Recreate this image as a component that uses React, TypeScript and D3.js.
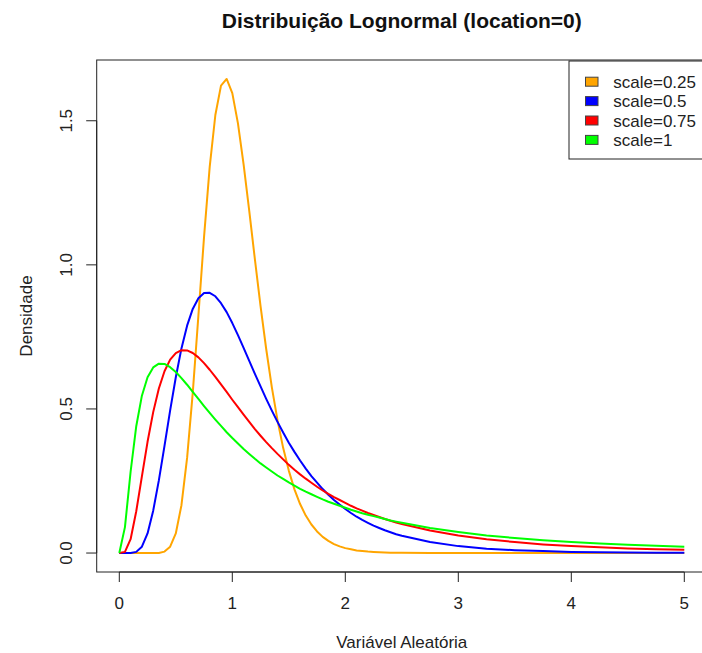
import React, { useEffect, useRef } from "react";
import * as d3 from "d3";

// pontos de x (passo 0.05 até 2.5, depois 0.25)
const xs = [
  0, 0.05, 0.1, 0.15, 0.2, 0.25, 0.3, 0.35, 0.4, 0.45, 0.5, 0.55, 0.6, 0.65, 0.7, 0.75, 0.8, 0.85, 0.9, 0.95,
  1.0, 1.05, 1.1, 1.15, 1.2, 1.25, 1.3, 1.35, 1.4, 1.45, 1.5, 1.55, 1.6, 1.65, 1.7, 1.75, 1.8, 1.85, 1.9, 1.95,
  2.0, 2.05, 2.1, 2.15, 2.2, 2.25, 2.3, 2.35, 2.4, 2.45, 2.5, 2.75, 3.0, 3.25, 3.5, 3.75, 4.0, 4.25, 4.5, 4.75, 5.0,
];

const scale025 = [
  0, 0, 0, 0, 0, 0, 0, 0, 0.005, 0.022, 0.068, 0.166, 0.33, 0.556, 0.824, 1.097, 1.34, 1.52, 1.622, 1.645,
  1.596, 1.491, 1.349, 1.187, 1.019, 0.857, 0.708, 0.575, 0.461, 0.365, 0.286, 0.221, 0.17, 0.13, 0.099, 0.075, 0.056, 0.042, 0.031, 0.023,
  0.017, 0.013, 0.009, 0.007, 0.005, 0.004, 0.003, 0.002, 0.001, 0.001, 0.001, 0, 0, 0, 0, 0, 0, 0, 0, 0, 0,
];

const scale05 = [
  0, 0, 0, 0.004, 0.022, 0.068, 0.147, 0.252, 0.372, 0.495, 0.61, 0.71, 0.789, 0.847, 0.884, 0.902, 0.903, 0.891, 0.867, 0.836,
  0.798, 0.756, 0.712, 0.667, 0.622, 0.578, 0.535, 0.494, 0.455, 0.418, 0.383, 0.351, 0.321, 0.293, 0.267, 0.244, 0.222, 0.202, 0.184, 0.168,
  0.153, 0.139, 0.126, 0.115, 0.105, 0.095, 0.087, 0.079, 0.072, 0.065, 0.06, 0.038, 0.024, 0.015, 0.01, 0.007, 0.004, 0.003, 0.002, 0.001, 0.001,
];

const scale075 = [
  0, 0.004, 0.048, 0.145, 0.266, 0.386, 0.489, 0.571, 0.631, 0.671, 0.694, 0.704, 0.703, 0.694, 0.679, 0.659, 0.636, 0.611, 0.585, 0.559,
  0.532, 0.506, 0.48, 0.455, 0.43, 0.407, 0.385, 0.364, 0.344, 0.325, 0.306, 0.289, 0.273, 0.258, 0.244, 0.23, 0.217, 0.205, 0.194, 0.184,
  0.174, 0.164, 0.155, 0.147, 0.139, 0.132, 0.125, 0.118, 0.112, 0.106, 0.101, 0.078, 0.061, 0.048, 0.038, 0.03, 0.024, 0.02, 0.016, 0.013, 0.011,
];

const scale1 = [
  0, 0.09, 0.282, 0.44, 0.546, 0.61, 0.644, 0.657, 0.656, 0.645, 0.628, 0.607, 0.584, 0.559, 0.535, 0.51, 0.486, 0.463, 0.441, 0.419,
  0.399, 0.38, 0.361, 0.344, 0.327, 0.311, 0.297, 0.283, 0.269, 0.257, 0.245, 0.234, 0.223, 0.213, 0.204, 0.195, 0.186, 0.178, 0.171, 0.164,
  0.157, 0.15, 0.144, 0.138, 0.133, 0.128, 0.123, 0.118, 0.113, 0.109, 0.105, 0.087, 0.073, 0.061, 0.052, 0.044, 0.038, 0.033, 0.029, 0.025, 0.022,
];

const seriesNames = ["scale=0.25", "scale=0.5", "scale=0.75", "scale=1"];
const seriesColors = ["#FFA500", "#0000FF", "#FF0000", "#00FF00"];
const xTicks = [0, 1, 2, 3, 4, 5];
const yTicks = [0, 0.5, 1.0, 1.5];

const W = 702;
const H = 653;
const FONT = "'Liberation Sans', Arial, sans-serif";

const App = () => {
  const svgRef = useRef(null);

  useEffect(() => {
    const svg = d3.select(svgRef.current);
    svg.selectAll("*").remove();

    const series = [scale025, scale05, scale075, scale1];
    const left = 96.7, right = 706.9, top = 60, bottom = 572;

    // faixa como no R: 4% de folga
    const xMin = d3.min(xs), xMax = d3.max(xs);
    const yMax = d3.max(series.flat());
    const xPad = (xMax - xMin) * 0.04;
    const yPad = yMax * 0.04;

    const x = d3.scaleLinear().domain([xMin - xPad, xMax + xPad]).range([left, right]);
    const y = d3.scaleLinear().domain([-yPad, yMax + yPad]).range([bottom, top]);

    // curvas
    const line = d3
      .line()
      .x((d) => x(d[0]))
      .y((d) => y(d[1]));

    series.forEach((vals, i) => {
      svg
        .append("path")
        .attr("d", line(xs.map((v, j) => [v, vals[j]])))
        .attr("fill", "none")
        .attr("stroke", seriesColors[i])
        .attr("stroke-width", 2)
        .attr("stroke-linejoin", "round");
    });

    // caixa do gráfico
    svg
      .append("rect")
      .attr("x", left)
      .attr("y", top)
      .attr("width", right - left)
      .attr("height", bottom - top)
      .attr("fill", "none")
      .attr("stroke", "#222")
      .attr("stroke-width", 1);

    // eixo x
    const gx = svg.append("g").attr("transform", `translate(0,${bottom})`);
    gx.append("line").attr("x1", x(0)).attr("x2", x(5)).attr("stroke", "#222");
    gx.selectAll(".tk")
      .data(xTicks)
      .enter()
      .append("line")
      .attr("x1", (d) => x(d))
      .attr("x2", (d) => x(d))
      .attr("y1", 0)
      .attr("y2", 10)
      .attr("stroke", "#222");
    gx.selectAll(".lb")
      .data(xTicks)
      .enter()
      .append("text")
      .attr("x", (d) => x(d))
      .attr("y", 37)
      .attr("text-anchor", "middle")
      .attr("font-family", FONT)
      .attr("font-size", 17)
      .attr("fill", "#222")
      .text((d) => d);

    // eixo y
    const gy = svg.append("g").attr("transform", `translate(${left},0)`);
    gy.append("line").attr("y1", y(0)).attr("y2", y(1.5)).attr("stroke", "#222");
    gy.selectAll(".tk")
      .data(yTicks)
      .enter()
      .append("line")
      .attr("y1", (d) => y(d))
      .attr("y2", (d) => y(d))
      .attr("x1", 0)
      .attr("x2", -10.5)
      .attr("stroke", "#222");
    gy.selectAll(".lb")
      .data(yTicks)
      .enter()
      .append("text")
      .attr("transform", (d) => `translate(-24.5,${y(d)}) rotate(-90)`)
      .attr("text-anchor", "middle")
      .attr("font-family", FONT)
      .attr("font-size", 17)
      .attr("fill", "#222")
      .text((d) => d3.format(".1f")(d));

    // títulos
    svg
      .append("text")
      .attr("x", (left + right) / 2)
      .attr("y", 28)
      .attr("text-anchor", "middle")
      .attr("font-family", FONT)
      .attr("font-size", 21)
      .attr("font-weight", "bold")
      .attr("fill", "#111")
      .text("Distribuição Lognormal (location=0)");

    svg
      .append("text")
      .attr("x", (left + right) / 2)
      .attr("y", 648)
      .attr("text-anchor", "middle")
      .attr("font-family", FONT)
      .attr("font-size", 17)
      .attr("fill", "#222")
      .text("Variável Aleatória");

    svg
      .append("text")
      .attr("transform", `translate(32,${(top + bottom) / 2}) rotate(-90)`)
      .attr("text-anchor", "middle")
      .attr("font-family", FONT)
      .attr("font-size", 17)
      .attr("fill", "#222")
      .text("Densidade");

    // legenda (topright)
    const lg = svg.append("g");
    lg.append("rect")
      .attr("x", 569)
      .attr("y", 61)
      .attr("width", right - 569)
      .attr("height", 98)
      .attr("fill", "white")
      .attr("stroke", "#222");
    seriesNames.forEach((name, i) => {
      const cy = 81.7 + i * 19.4;
      lg.append("rect")
        .attr("x", 585.5)
        .attr("y", cy - 4.5)
        .attr("width", 12.5)
        .attr("height", 9)
        .attr("fill", seriesColors[i])
        .attr("stroke", "#444")
        .attr("stroke-width", 1);
      lg.append("text")
        .attr("x", 613.3)
        .attr("y", cy + 6)
        .attr("font-family", FONT)
        .attr("font-size", 17)
        .attr("fill", "#222")
        .text(name);
    });
  }, []);

  return (
    <svg
      ref={svgRef}
      width={W}
      height={H}
      style={{ position: "absolute", left: 0, top: 0, background: "white" }}
    ></svg>
  );
};

export default App;
